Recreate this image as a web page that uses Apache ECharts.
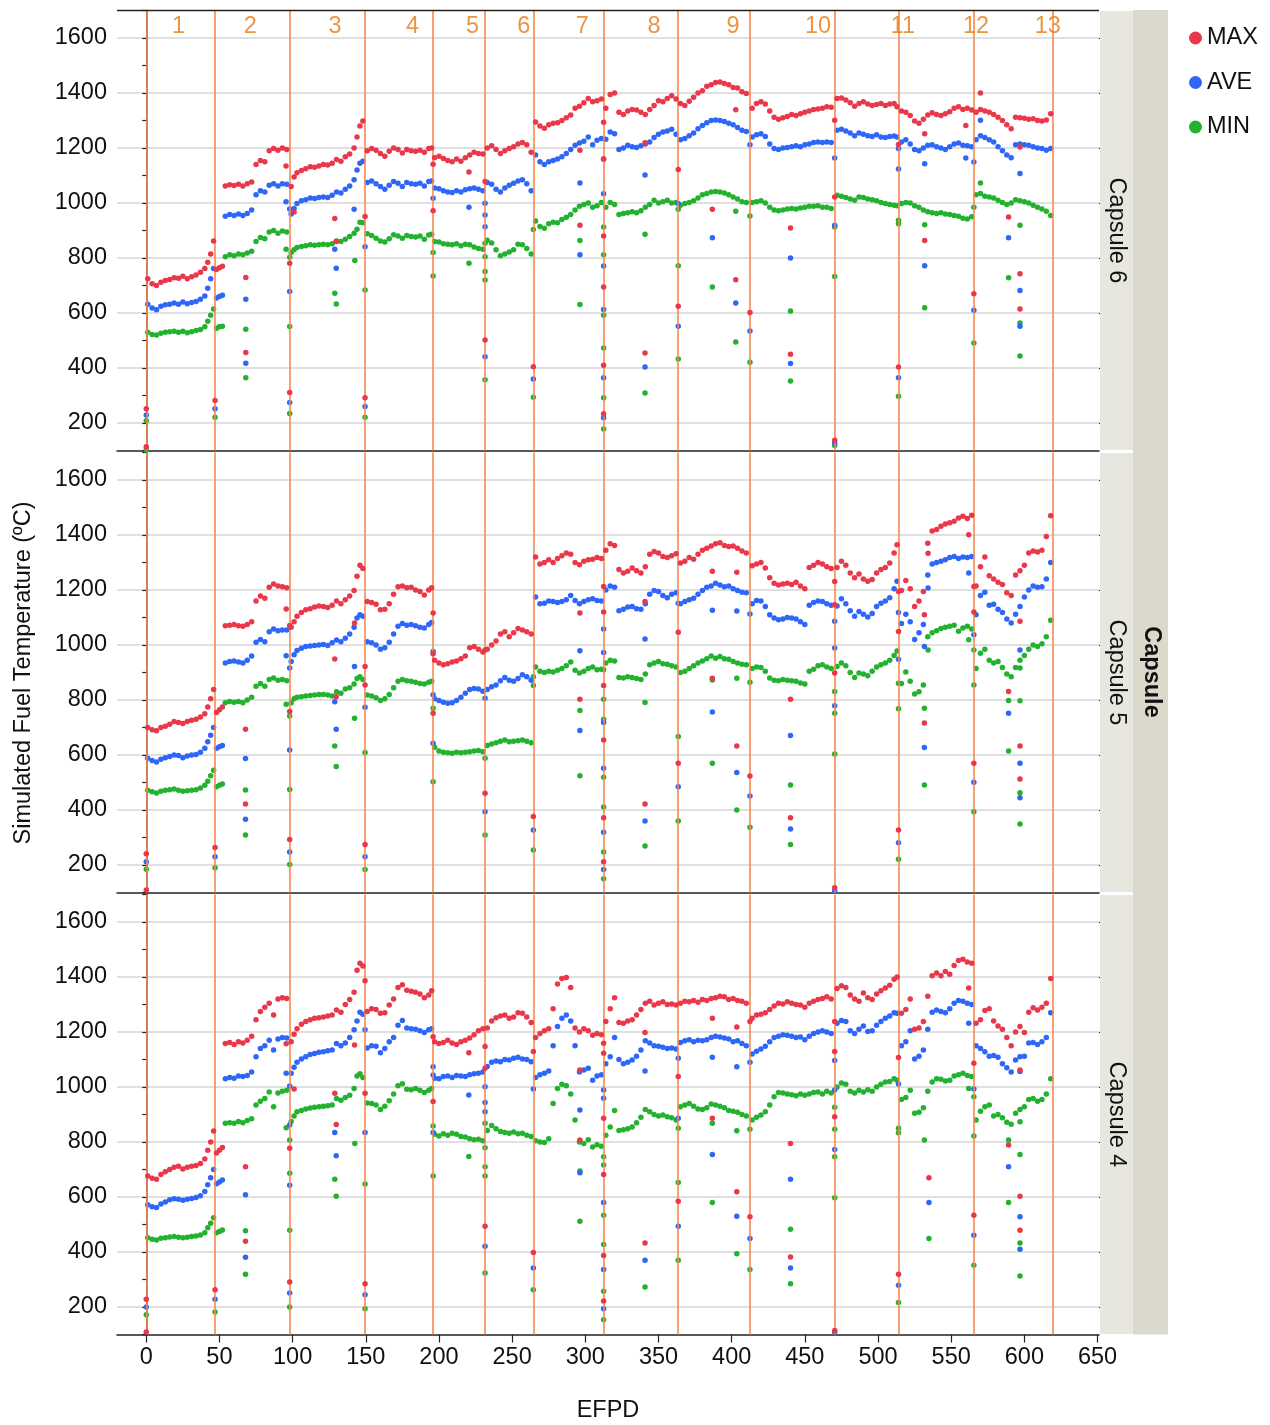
<!DOCTYPE html>
<html><head><meta charset="utf-8">
<script src="https://cdn.jsdelivr.net/npm/echarts@6/dist/echarts.min.js"></script>
<style>html,body{margin:0;padding:0;background:#fff}#chart{width:1270px;height:1425px}</style>
</head><body><div id="chart"></div>
<script>
// ---------- DATA ----------
const efpd = [
 1,4,7,10,13,16,19,22,25,28,31,34,37,40,42,44,46,
 48,50,52,54,57,60,63,66,69,72,75,78,81,84,87,90,93,96,
 99,101,103,106,109,112,115,118,121,124,127,130,133,136,139,142,144,146,148,
 151,154,157,160,163,166,169,172,175,178,181,184,187,190,193,195,
 197,200,203,206,209,212,215,218,221,224,227,230,
 233,236,239,242,245,248,251,254,257,260,263,
 266,269,272,275,278,281,284,287,290,293,296,299,302,305,308,311,
 314,317,320,323,326,329,332,335,338,341,344,347,350,353,356,359,362,
 365,368,371,374,377,380,383,386,389,392,395,398,401,404,407,410,
 414,417,420,423,426,429,432,435,438,441,444,447,450,453,456,459,462,465,468,
 472,475,478,481,484,487,490,493,496,499,502,505,508,511,513,
 516,519,522,525,528,531,534,537,540,543,546,549,552,555,558,561,564,
 567,570,573,576,579,582,585,588,591,594,597,600,603,606,609,612,615,618
];
const cycleBounds = [0,47,98,149.5,196,231.5,264.5,312.5,363.5,412.5,470.5,514,565.5,619.5];
const cycleLabels = ['1','2','3','4','5','6','7','8','9','10','11','12','13'];
const cycleLabelPos = [22,71,129,182,223,258,298,347,401,459,517,567,616];
const xTicks = [0,50,100,150,200,250,300,350,400,450,500,550,600,650];
const yTicks = [200,400,600,800,1000,1200,1400,1600];
const capsuleNames = ['Capsule 6','Capsule 5','Capsule 4'];
const seriesNames = ['MAX','AVE','MIN'];

// Capsule 6
const c6Max = [
 725,706,700,712,718,722,728,726,734,725,732,738,748,762,785,815,862,
 758,765,770,1062,1066,1064,1068,1062,1070,1076,1140,1155,1150,1190,1198,1192,1200,1195,
 1060,1095,1110,1118,1125,1132,1130,1135,1140,1138,1145,1158,1152,1168,1178,1200,1240,1280,1298,
 1190,1198,1192,1180,1170,1188,1200,1195,1182,1195,1190,1188,1192,1185,1198,1200,
 1165,1170,1162,1155,1150,1160,1152,1165,1175,1185,1180,1178,
 1200,1208,1195,1180,1190,1198,1205,1215,1220,1212,1185,
 1295,1280,1272,1285,1290,1292,1300,1310,1320,1345,1352,1365,1380,1368,1372,1378,
 1345,1395,1400,1330,1322,1335,1340,1338,1330,1322,1340,1355,1372,1368,1380,1390,1378,
 1362,1355,1370,1385,1400,1408,1425,1430,1438,1440,1435,1430,1420,1418,1405,1398,
 1345,1362,1368,1360,1335,1312,1305,1310,1315,1322,1318,1325,1330,1335,1340,1342,1345,1350,1348,
 1380,1382,1375,1365,1352,1362,1368,1360,1355,1358,1362,1355,1360,1362,1350,
 1335,1330,1318,1298,1290,1305,1320,1328,1322,1318,1325,1332,1345,1350,1340,1345,1338,
 1330,1340,1335,1330,1322,1312,1300,1285,1270,1312,1310,1308,1305,1306,1300,1298,1302,1325
];
const c6Ave = [
 632,618,612,625,630,632,636,632,640,634,638,642,650,662,690,725,762,
 655,660,665,952,958,955,960,955,962,975,1030,1045,1040,1065,1070,1062,1070,1068,
 960,980,998,1008,1012,1018,1016,1020,1022,1020,1028,1040,1036,1050,1062,1085,1120,1145,1152,
 1075,1080,1070,1060,1050,1065,1078,1072,1060,1075,1070,1068,1072,1062,1078,1080,
 1055,1052,1045,1040,1038,1045,1040,1048,1052,1055,1050,1045,
 1075,1068,1050,1040,1055,1065,1072,1080,1085,1070,1045,
 1175,1150,1140,1150,1155,1160,1168,1180,1195,1210,1218,1225,1240,1212,1228,1235,
 1232,1258,1252,1195,1200,1210,1205,1202,1208,1215,1222,1238,1250,1258,1262,1268,1250,
 1230,1235,1245,1255,1270,1282,1292,1300,1302,1300,1296,1290,1285,1275,1265,1260,
 1240,1248,1252,1242,1215,1198,1195,1200,1202,1205,1208,1205,1212,1215,1220,1222,1220,1222,1220,
 1265,1268,1262,1255,1245,1255,1250,1245,1242,1248,1240,1238,1242,1244,1240,
 1222,1230,1215,1195,1190,1200,1210,1212,1205,1200,1195,1205,1215,1218,1210,1208,1205,
 1230,1245,1238,1230,1222,1205,1190,1175,1165,1212,1215,1212,1210,1205,1200,1198,1192,1198
];
const c6Min = [
 530,522,520,526,530,532,534,530,534,528,532,536,540,550,570,592,615,
 545,550,552,805,812,808,815,812,818,825,860,875,870,895,900,890,898,895,
 820,830,838,842,845,848,846,848,850,848,852,862,860,868,878,890,905,930,928,
 888,882,872,862,858,870,885,880,872,882,878,876,880,868,884,886,
 860,858,852,850,848,852,845,850,848,840,835,832,
 865,855,830,808,815,822,830,850,848,835,815,
 935,915,908,925,930,928,940,948,958,975,988,995,1000,985,990,1002,
 985,1002,995,958,962,965,968,965,972,985,995,1010,1000,1005,1010,1000,1002,
 992,998,1002,1008,1018,1030,1035,1040,1042,1040,1036,1030,1022,1015,1005,1002,
 1002,1005,1008,1000,985,975,972,975,978,980,978,982,985,988,988,990,985,985,980,
 1028,1025,1020,1015,1010,1022,1020,1015,1012,1008,1002,998,995,992,990,
 998,1002,1000,990,985,975,968,965,962,965,960,958,955,952,945,942,950,
 1030,1035,1025,1022,1018,1010,1002,995,1000,1012,1008,1005,1000,992,985,978,970,955
];
const c6MaxDips = [[0,252],[0,114],[47,282],[68,729],[68,456],[95.5,1135],[98,781],[98,311],[101,967],[128.8,944],[129.8,860],
 [149.5,951],[149.5,292],[196,1141],[196,972],[220.5,1113],[231.5,1078],[231.5,502],[264.5,405],[296.3,1192],[296.3,919],
 [312.5,1294],[312.5,1161],[312.5,880],[312.5,695],[312.5,410],[312.5,234],[340.8,1219],[340.8,455],[363.5,1122],[363.5,625],
 [386.8,977],[402.8,1339],[402.8,721],[412.5,602],[440.2,909],[440.2,450],[470.4,1301],[470.4,1022],[470.4,137],[514,1213],[514,404],
 [531.9,1252],[531.9,864],[560,1282],[565.5,670],[570,1400],[589.2,949],[597,1204],[597,743],[597,615]];
const c6AveDips = [[0,229],[47,252],[68,650],[68,417],[95.5,1005],[98,978],[98,678],[98,275],[128.8,832],[129.8,763],[142,977],
 [149.5,841],[149.5,260],[196,1017],[220.5,985],[231.5,999],[231.5,956],[231.5,914],[231.5,441],[264.5,360],[296.3,1073],[296.3,812],
 [312.5,1159],[312.5,1034],[312.5,771],[312.5,613],[312.5,365],[312.5,219],[340.8,1102],[340.8,404],[363.5,998],[363.5,552],
 [386.8,874],[402.8,636],[412.5,1212],[412.5,535],[440.2,800],[440.2,416],[470.4,1164],[470.4,919],[470.4,127],[514,1198],[514,1124],[514,365],
 [531.9,1143],[531.9,772],[560,1164],[565.5,1149],[565.5,610],[570,1301],[589.2,874],[597,1107],[597,682],[597,552]];
const c6MinDips = [[0,208],[0,102],[47,221],[68,541],[68,365],[95.5,832],[98,803],[98,551],[98,235],[128.8,672],[129.8,633],[142.5,791],
 [149.5,684],[149.5,221],[196,820],[196,735],[220.5,781],[231.5,854],[231.5,805],[231.5,751],[231.5,720],[231.5,357],[264.5,904],[264.5,294],
 [296.3,864],[296.3,631],[312.5,913],[312.5,812],[312.5,592],[312.5,473],[312.5,292],[312.5,178],[340.8,886],[340.8,309],[363.5,977],[363.5,772],[363.5,433],
 [386.8,695],[402.8,970],[402.8,495],[412.5,953],[412.5,421],[440.2,607],[440.2,353],[470.4,913],[470.4,733],[470.4,118],[514,937],[514,925],[514,297],
 [531.9,921],[531.9,619],[565.5,985],[565.5,491],[570,1073],[589.2,728],[597,919],[597,564],[597,444]];

// Capsule 5
const c5Max = [
 700,692,688,700,705,712,722,718,715,722,726,730,738,750,775,805,838,
 755,765,775,1070,1072,1075,1070,1068,1075,1085,1160,1178,1170,1210,1222,1215,1212,1208,
 1065,1085,1105,1118,1128,1132,1138,1142,1140,1136,1145,1160,1150,1165,1178,1198,1250,1290,1278,
 1158,1155,1148,1128,1130,1150,1185,1212,1215,1208,1210,1200,1195,1182,1200,1208,
 945,935,928,932,938,942,950,960,990,995,985,975,
 985,1000,1015,1040,1048,1030,1045,1060,1055,1048,1040,
 1320,1295,1300,1310,1300,1315,1325,1335,1330,1300,1292,1305,1310,1312,1318,1315,
 1345,1368,1362,1275,1262,1268,1280,1270,1262,1285,1330,1340,1335,1322,1318,1325,1332,
 1298,1305,1318,1312,1330,1345,1352,1360,1368,1372,1362,1358,1360,1352,1342,1335,
 1288,1295,1300,1280,1245,1225,1218,1222,1225,1220,1228,1215,1205,1282,1290,1300,1295,1285,1278,
 1282,1305,1290,1262,1245,1258,1240,1232,1238,1262,1275,1282,1298,1335,1365,
 1198,1235,1205,1140,1160,1195,1370,1415,1420,1432,1440,1445,1450,1462,1468,1460,1472,
 1215,1285,1320,1252,1240,1228,1220,1190,1180,1255,1270,1290,1335,1342,1338,1345,1395,1470
];
const c5Ave = [
 588,580,575,585,590,595,600,598,590,596,600,602,610,625,648,672,700,
 625,630,635,935,940,942,938,935,945,960,1010,1020,1012,1048,1058,1052,1055,1055,
 940,965,980,988,995,996,998,1000,1002,998,1008,1018,1012,1025,1040,1065,1098,1110,1105,
 1012,1008,1000,985,990,1010,1040,1068,1078,1072,1075,1070,1065,1062,1075,1082,
 805,798,792,788,790,798,810,825,838,842,840,832,
 838,848,855,870,882,872,868,878,892,885,872,
 1175,1150,1152,1160,1158,1155,1158,1165,1180,1162,1150,1158,1165,1168,1162,1160,
 1200,1215,1210,1125,1130,1138,1140,1132,1130,1150,1185,1198,1195,1180,1172,1185,1190,
 1150,1158,1165,1170,1185,1198,1210,1215,1225,1218,1212,1215,1205,1198,1192,1190,
 1150,1162,1160,1140,1110,1098,1092,1095,1100,1098,1095,1085,1075,1145,1155,1160,1158,1150,1145,
 1142,1168,1150,1125,1105,1122,1112,1102,1115,1140,1152,1160,1172,1205,1232,
 1078,1112,1085,1020,1045,1075,1255,1295,1300,1305,1310,1318,1322,1315,1320,1318,1322,
 1110,1180,1192,1145,1148,1130,1118,1095,1080,1112,1140,1175,1200,1215,1210,1212,1240,1300
];
const c5Min = [
 472,466,462,468,472,474,476,472,468,470,472,474,480,490,505,525,545,
 485,490,495,790,795,792,795,790,800,810,850,860,850,875,880,872,875,870,
 790,805,810,812,815,816,818,820,820,818,815,830,825,840,845,858,878,885,875,
 818,815,808,798,805,820,845,868,875,870,868,865,860,858,865,868,
 628,615,610,608,606,610,608,610,612,615,616,612,
 635,640,645,650,655,648,650,652,655,650,645,
 920,905,900,905,902,908,915,925,938,908,898,905,915,920,910,912,
 935,945,942,882,880,885,882,878,875,895,928,935,940,932,930,925,920,
 900,905,915,925,935,942,950,960,952,958,950,948,940,935,930,928,
 915,920,918,905,880,872,870,875,872,870,868,862,858,905,912,925,928,920,915,
 922,935,925,900,882,898,895,888,905,920,928,935,945,962,978,
 860,902,868,822,830,855,1030,1045,1052,1060,1065,1068,1072,1050,1062,1068,1058,
 915,970,985,945,935,940,918,895,885,918,945,962,985,1000,995,1005,1030,1090
];
const c5MaxDips = [[0,241],[0,109],[47,264],[67.8,694],[67.8,422],[95.6,1131],[98,1071],[98,758],[98,293],[128.8,949],[129.8,812],[142.3,1080],
 [149.5,922],[149.5,855],[149.5,275],[196,1116],[196,968],[196,752],[231.5,982],[231.5,461],[264.5,376],[296.3,1116],[296.3,803],
 [312.5,1213],[312.5,1120],[312.5,853],[312.5,655],[312.5,372],[312.5,212],[340.8,1158],[340.8,422],[363.5,1046],[363.5,570],
 [386.8,1268],[386.8,879],[403.5,1265],[403.5,633],[412.5,524],[440.2,803],[440.2,372],[470.4,1231],[470.4,1146],[470.4,898],[470.4,117],
 [514,1195],[514,1049],[514,327],[531.7,1110],[531.7,716],[534.2,1334],[562,1401],[565.5,1213],[565.5,1120],[565.5,570],[589.2,831],
 [597,1086],[597,633],[597,513]];
const c5AveDips = [[0,212],[47,230],[67.8,587],[67.8,366],[95.6,961],[98,916],[98,618],[98,247],[128.8,794],[129.8,694],[142.3,922],
 [149.5,774],[149.5,230],[196,976],[196,819],[196,643],[231.5,806],[231.5,394],[264.5,327],[296.3,979],[296.3,689],
 [312.5,1058],[312.5,973],[312.5,718],[312.5,552],[312.5,319],[312.5,184],[340.8,1022],[340.8,360],[363.5,1152],[363.5,485],
 [386.8,1126],[386.8,756],[403.5,1124],[403.5,536],[412.5,1113],[412.5,451],[440.2,671],[440.2,331],[470.4,1086],[470.4,989],[470.4,779],[470.4,106],
 [514,1118],[514,948],[514,281],[531.7,995],[531.7,627],[534.2,1207],[562,1262],[565.5,1037],[565.5,501],[589.2,752],[597,982],[597,570],[597,445]];
const c5MinDips = [[0,185],[47,190],[67.8,473],[67.8,309],[95.6,785],[98,742],[98,475],[98,202],[128.8,633],[129.8,558],[142.3,734],
 [149.5,609],[149.5,184],[196,770],[196,503],[231.5,588],[231.5,309],[264.5,885],[264.5,853],[264.5,255],[296.3,762],[296.3,525],
 [312.5,910],[312.5,803],[312.5,730],[312.5,519],[312.5,411],[312.5,247],[312.5,150],[340.8,791],[340.8,269],[363.5,667],[363.5,360],
 [386.8,873],[386.8,570],[403.5,879],[403.5,400],[412.5,865],[412.5,337],[440.2,491],[440.2,275],[470.4,831],[470.4,752],[470.4,604],
 [514,861],[514,768],[514,221],[531.7,770],[531.7,491],[534.2,982],[562,1019],[565.5,982],[565.5,855],[565.5,394],[589.2,798],[589.2,615],
 [597,916],[597,797],[597,463],[597,349]];

// Capsule 4
const c4Max = [
 676,668,665,682,692,700,708,712,702,708,712,715,722,738,770,800,840,
 760,770,780,1158,1162,1155,1165,1160,1170,1185,1245,1275,1290,1305,1262,1320,1325,1322,
 1165,1192,1212,1228,1238,1245,1250,1252,1255,1258,1262,1280,1272,1300,1318,1345,1425,1450,1440,
 1275,1285,1282,1268,1270,1298,1320,1362,1372,1352,1348,1345,1338,1325,1335,1350,
 1165,1158,1162,1170,1160,1155,1165,1170,1178,1190,1205,1212,
 1215,1240,1252,1258,1262,1250,1255,1270,1268,1255,1235,
 1180,1195,1205,1212,1285,1375,1395,1398,1362,1215,1200,1212,1205,1188,1195,1190,
 1238,1285,1325,1235,1232,1240,1245,1262,1282,1305,1312,1298,1305,1310,1300,1302,1298,
 1305,1312,1310,1315,1308,1318,1315,1322,1325,1330,1328,1318,1322,1315,1312,1305,
 1250,1262,1265,1270,1282,1295,1305,1302,1310,1305,1300,1298,1290,1305,1312,1318,1322,1328,1320,
 1358,1368,1362,1335,1320,1312,1342,1325,1318,1338,1350,1360,1370,1392,1400,
 1268,1282,1320,1210,1215,1238,1330,1405,1415,1405,1420,1410,1442,1460,1465,1455,1450,
 1232,1245,1278,1285,1240,1222,1210,1180,1150,1200,1220,1198,1272,1288,1280,1290,1305,1395
];
const c4Ave = [
 572,565,562,575,582,590,594,592,588,592,595,598,605,620,645,670,700,
 648,655,662,1030,1035,1032,1040,1038,1042,1055,1110,1140,1150,1170,1135,1175,1180,1178,
 1050,1072,1090,1102,1110,1118,1122,1126,1128,1132,1135,1158,1150,1160,1180,1208,1240,1272,1265,
 1142,1150,1148,1125,1140,1165,1180,1225,1242,1215,1212,1210,1205,1198,1208,1212,
 1032,1030,1038,1040,1035,1042,1040,1038,1045,1048,1050,1055,
 1075,1090,1095,1092,1100,1098,1105,1108,1102,1100,1092,
 1035,1045,1050,1058,1150,1220,1250,1262,1240,1150,1055,1062,1068,1025,1040,1045,
 1085,1110,1180,1100,1085,1090,1098,1112,1135,1168,1160,1150,1148,1145,1140,1142,1138,
 1162,1168,1172,1165,1170,1168,1172,1180,1185,1182,1178,1175,1165,1168,1158,1150,
 1120,1130,1138,1148,1165,1180,1185,1190,1188,1185,1180,1182,1172,1185,1195,1200,1205,1200,1195,
 1232,1242,1238,1205,1195,1210,1222,1202,1205,1225,1238,1250,1258,1270,1268,
 1150,1165,1205,1102,1112,1135,1210,1272,1280,1275,1270,1285,1305,1315,1312,1305,1300,
 1150,1140,1128,1112,1115,1108,1085,1070,1055,1098,1110,1112,1160,1162,1155,1165,1180,1270
];
const c4Min = [
 452,446,444,450,452,455,456,454,452,454,456,458,462,470,488,505,525,
 470,475,480,868,870,868,875,870,878,885,935,948,958,982,928,978,985,988,
 875,895,910,915,920,924,926,928,930,932,935,958,952,962,970,995,1040,1048,1035,
 942,940,935,918,930,950,975,1005,1012,992,990,995,988,980,988,995,
 828,822,830,825,832,828,820,818,812,808,810,805,
 842,860,848,838,835,832,836,830,832,825,820,
 805,800,798,812,940,995,1010,1005,975,880,800,795,808,782,790,785,
 825,855,915,842,845,848,855,870,890,918,910,900,895,898,892,888,880,
 928,935,940,930,920,918,925,938,935,930,925,915,912,908,900,895,
 880,890,898,910,935,965,980,978,975,972,968,975,970,975,980,982,975,985,978,
 1000,1015,1010,985,978,988,982,990,985,1000,1010,1018,1020,1030,1025,
 955,962,988,905,908,925,985,1018,1030,1028,1022,1025,1040,1045,1050,1042,1038,
 880,912,928,935,895,900,888,872,865,905,918,928,955,958,948,955,975,1030
];
const c4MaxDips = [[0,228],[0,109],[47,263],[67.8,710],[67.8,439],[95.6,1157],[101,993],[98,777],[98,291],[128.8,977],[129.8,864],[142.3,1153],
 [149.5,1386],[149.5,977],[149.5,285],[196,1183],[196,947],[220.4,1125],[231.5,1147],[231.5,1068],[231.5,494],[264.5,1129],[264.5,398],
 [296.3,1062],[296.3,807],[312.5,1159],[312.5,1123],[312.5,886],[312.5,682],[312.5,387],[312.5,222],[340.8,1198],[340.8,433],[363.5,1038],[363.5,585],
 [386.8,1250],[386.8,886],[403.5,1218],[403.5,619],[412.5,1238],[412.5,528],[440.2,795],[440.2,382],[470.4,1238],[470.4,1129],[470.4,892],[470.4,115],
 [514,1107],[514,319],[534.8,670],[562,1360],[565.5,1086],[565.5,534],[589.2,789],[597,1062],[597,603],[597,479]];
const c4AveDips = [[0,200],[47,228],[67.8,608],[67.8,381],[95.6,1050],[98,1004],[98,862],[98,643],[98,251],[128.8,835],[129.8,750],
 [149.5,1208],[149.5,835],[149.5,245],[196,1074],[196,1044],[196,835],[220.4,971],[231.5,1001],[231.5,944],[231.5,910],[231.5,421],[264.5,993],[264.5,342],
 [296.3,916],[296.3,688],[312.5,989],[312.5,959],[312.5,580],[312.5,336],[312.5,194],[340.8,1058],[340.8,370],[363.5,1105],[363.5,886],[363.5,494],
 [386.8,1108],[386.8,755],[403.5,1074],[403.5,530],[412.5,1090],[412.5,449],[440.2,665],[440.2,342],[470.4,1096],[470.4,989],[470.4,773],[470.4,109],
 [514,1011],[514,279],[534.8,580],[562,1232],[565.5,993],[565.5,461],[589.2,710],[597,1056],[597,528],[597,410]];
const c4MinDips = [[0,172],[47,182],[67.8,477],[67.8,319],[95.6,852],[98,807],[98,686],[98,479],[98,200],[128.8,665],[129.8,603],[142.5,795],
 [149.5,647],[149.5,194],[196,858],[196,676],[220.4,747],[231.5,868],[231.5,779],[231.5,710],[231.5,676],[231.5,324],[264.5,263],
 [296.3,695],[296.3,512],[312.5,746],[312.5,716],[312.5,534],[312.5,427],[312.5,257],[312.5,154],[340.8,273],[363.5,850],[363.5,653],[363.5,370],
 [386.8,868],[386.8,580],[403.5,841],[403.5,394],[412.5,846],[412.5,336],[440.2,483],[440.2,285],[470.4,926],[470.4,846],[470.4,746],[470.4,597],
 [514,850],[514,834],[514,216],[531.7,807],[534.8,449],[562,995],[565.5,965],[565.5,822],[565.5,352],[589.2,807],[589.2,580],
 [597,874],[597,755],[597,433],[597,313]];

// ---------- CHART ----------
const FONT = '"Liberation Sans", Arial, Helvetica, sans-serif';
const FS = 23.5;
const COLORS = ['#E9384A', '#2E67F8', '#23B22F'];
const ORANGE_LINE = '#F7894E';
const ORANGE_TEXT = '#E57A12';
const gridTops = [10.5, 452.5, 894.5];
const GRID_LEFT = 117, GRID_W = 982, GRID_H = 440;

const panels = [
  [[c6Max, c6MaxDips], [c6Ave, c6AveDips], [c6Min, c6MinDips]],
  [[c5Max, c5MaxDips], [c5Ave, c5AveDips], [c5Min, c5MinDips]],
  [[c4Max, c4MaxDips], [c4Ave, c4AveDips], [c4Min, c4MinDips]]
];

const grid = gridTops.map(t => ({ left: GRID_LEFT, top: t, width: GRID_W, height: GRID_H }));
const xAxis = gridTops.map((t, i) => ({
  gridIndex: i, type: 'value', min: -20, max: 651,
  axisLine: { show: true, lineStyle: { color: '#222', width: 1.5 } },
  axisTick: { show: i === 2, length: 8, customValues: xTicks, lineStyle: { color: '#222', width: 1.2 } },
  axisLabel: { show: i === 2, customValues: xTicks, fontSize: FS, color: '#111', fontFamily: FONT, margin: 11 },
  splitLine: { show: false },
  name: i === 2 ? 'EFPD' : '', nameLocation: 'middle', nameGap: 64,
  nameTextStyle: { fontSize: FS, color: '#111', fontFamily: FONT }
}));
const yAxis = [];
gridTops.forEach((t, i) => {
  yAxis.push({
    gridIndex: i, type: 'value', min: 100, max: 1700, interval: 100,
    axisLine: { show: true, lineStyle: { color: '#222', width: 1.5 } },
    axisTick: { show: true, length: 4, lineStyle: { color: '#222', width: 1.2 } },
    axisLabel: { fontSize: FS, color: '#111', fontFamily: FONT, margin: 10,
      formatter: v => (v % 200 === 0 && v >= 200 && v <= 1600) ? String(v) : '' },
    splitLine: { show: true, lineStyle: { color: ['rgba(0,0,0,0)', '#d6d6d6'], width: 1.5 } }
  });
  yAxis.push({
    gridIndex: i, type: 'value', min: 100, max: 1700,
    axisLine: { show: false },
    axisTick: { show: true, length: 8, customValues: yTicks, lineStyle: { color: '#222', width: 1.2 } },
    axisLabel: { show: false },
    splitLine: { show: false }
  });
});

const series = [];
panels.forEach((p, i) => {
  series.push({
    type: 'line', data: [], xAxisIndex: i, yAxisIndex: 2 * i, silent: true, z: 1,
    markLine: {
      silent: true, symbol: ['none', 'none'], animation: false,
      label: { show: false },
      lineStyle: { color: ORANGE_LINE, width: 1.6, type: 'solid' },
      data: cycleBounds.map(x => ({ xAxis: x }))
    }
  });
  p.forEach((pair, k) => {
    const [vals, dips] = pair;
    const data = efpd.map((x, j) => [x, vals[j]]).concat(dips);
    series.push({
      type: 'scatter', name: seriesNames[k], xAxisIndex: i, yAxisIndex: 2 * i,
      data: data, symbol: 'circle', symbolSize: 5.5, z: 3 + (2 - k),
      itemStyle: { color: COLORS[k], opacity: 1 }, animation: false
    });
  });
});
series.push({
  type: 'scatter', xAxisIndex: 0, yAxisIndex: 0, symbolSize: 1, z: 5, silent: true,
  itemStyle: { color: 'rgba(0,0,0,0)' },
  label: { show: true, position: 'inside', formatter: '{b}', fontSize: FS, color: ORANGE_TEXT, fontFamily: FONT },
  data: cycleLabelPos.map((x, k) => ({ name: cycleLabels[k], value: [x, 1640] }))
});

const graphic = [
  { type: 'rect', shape: { x: 1133, y: 10, width: 35, height: 1324.5 }, style: { fill: '#DBD9CB' }, z: 0 },
  { type: 'line', shape: { x1: GRID_LEFT, y1: 10.5, x2: GRID_LEFT + GRID_W, y2: 10.5 }, style: { stroke: '#222', lineWidth: 1.5 }, z: 10 },
  { type: 'text', x: 1151, y: 672, rotation: -Math.PI / 2,
    style: { text: 'Capsule', font: 'bold ' + FS + 'px ' + FONT, fill: '#111', align: 'center', verticalAlign: 'middle' }, z: 2 },
  { type: 'text', x: 24, y: 673, rotation: Math.PI / 2,
    style: { text: 'Simulated Fuel Temperature (ºC)', font: FS + 'px ' + FONT, fill: '#111', align: 'center', verticalAlign: 'middle' }, z: 2 }
];
gridTops.forEach((t, i) => {
  graphic.push({ type: 'rect', shape: { x: 1100, y: t + 0.5, width: 33, height: GRID_H - 1 }, style: { fill: '#E7E7E0' }, z: 1 });
  graphic.push({ type: 'text', x: 1116.5, y: t + GRID_H / 2, rotation: -Math.PI / 2,
    style: { text: capsuleNames[i], font: FS + 'px ' + FONT, fill: '#111', align: 'center', verticalAlign: 'middle' }, z: 2 });
});

const chart = echarts.init(document.getElementById('chart'), null, { renderer: 'canvas' });
chart.setOption({
  animation: false,
  backgroundColor: '#fff',
  textStyle: { fontFamily: FONT },
  grid, xAxis, yAxis, series, graphic,
  legend: {
    data: seriesNames, orient: 'vertical', left: 1184, top: 21,
    icon: 'circle', itemWidth: 13, itemHeight: 13, itemGap: 20.5,
    textStyle: { fontSize: FS, color: '#111', fontFamily: FONT, lineHeight: 23, padding: [0, 0, 0, 0] }
  }
});
</script></body></html>
